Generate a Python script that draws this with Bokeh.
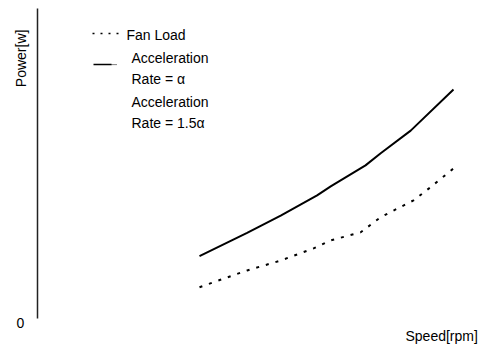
import math
from bokeh.plotting import figure
from bokeh.models import Label, Range1d
from bokeh.embed import file_html
from bokeh.resources import INLINE

# ---- data ----
speed_fan = [40.5, 52.4, 60.8, 69.0, 73.3, 80.8, 85.8, 94.0, 97.8, 104.0]
power_fan = [10.1, 15.5, 18.7, 22.6, 25.2, 27.8, 32.7, 38.1, 41.9, 48.4]
speed_acc = [40.5, 52.4, 60.8, 69.9, 73.3, 82.0, 85.8, 93.3, 104.0]
power_acc = [20.1, 27.6, 33.2, 39.7, 42.6, 49.4, 53.3, 60.6, 73.9]

legend_labels = ["Fan Load", "Acceleration", "Rate = α", "Acceleration", "Rate = 1.5α"]
x_title = "Speed[rpm]"
y_title = "Power[w]"
origin_label = "0"
axis_x = [0, 0]
axis_y = [0, 100]

FONT = "Liberation Sans"
FS = "14px"

W, H = 489, 345
p = figure(width=W, height=H, output_backend="svg", toolbar_location=None,
           x_axis_location=None, y_axis_location=None,
           x_range=Range1d(-37 / 4, -37 / 4 + W / 4),
           y_range=Range1d(-(H - 318) / 3.1, 100 + 8 / 3.1),
           min_border_left=0, min_border_right=0, min_border_top=0, min_border_bottom=0)
p.outline_line_color = None
p.xgrid.visible = False
p.ygrid.visible = False
p.background_fill_color = "white"

# y axis line
p.line(axis_x, axis_y, line_color="#222222", line_width=1.5)

# series
p.line(speed_acc, power_acc, line_color="black", line_width=2)
p.line(speed_fan, power_fan, line_color="black", line_width=2, line_dash="3 7")

# legend samples
p.line([13.75, 21.5], [91.9, 91.9], line_color="black", line_width=1.5, line_dash="2 6")
p.line([14.0, 18.5], [81.9, 81.9], line_color="black", line_width=1.5)
p.line([18.5, 20.0], [81.9, 81.9], line_color="black", line_width=1, line_dash="1 1")

def lab(x, y, t, align="left", angle=0.0):
    p.add_layout(Label(x=x, y=y, text=t, text_font=FONT, text_font_size=FS,
                       text_color="black", text_align=align, text_baseline="middle",
                       angle=angle))

lab(22.25, 91.6, legend_labels[0])
lab(23.5, 83.9, legend_labels[1])
lab(23.5, 77.1, legend_labels[2])
lab(23.5, 69.7, legend_labels[3])
lab(23.5, 63.2, legend_labels[4])

lab(-4.25, 83.9, y_title, align="center", angle=math.pi / 2)
lab(-4.25, -1.6, origin_label, align="center")
lab(92.0, -5.5, x_title)

open("out.html", "w").write(file_html(p, INLINE))
